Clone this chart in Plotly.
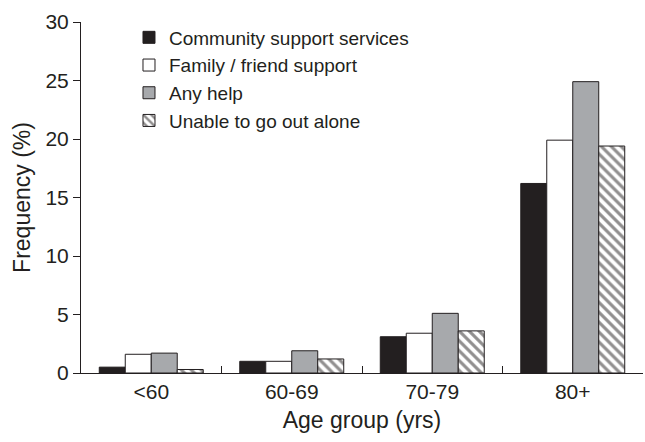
import plotly.graph_objects as go

categories = ["<60", "60-69", "70-79", "80+"]
community = [0.5, 1.0, 3.1, 16.2]
family = [1.6, 1.0, 3.4, 19.9]
any_help = [1.7, 1.9, 5.1, 24.9]
unable = [0.3, 1.2, 3.6, 19.4]
y_ticks = [0, 5, 10, 15, 20, 25, 30]

fig = go.Figure()
line = dict(color="#231f20", width=1)
fig.add_bar(x=categories, y=community, name="Community support services",
            marker=dict(color="#231f20", line=line))
fig.add_bar(x=categories, y=family, name="Family / friend support",
            marker=dict(color="white", line=line))
fig.add_bar(x=categories, y=any_help, name="Any help",
            marker=dict(color="#a7a9ac", line=line))
fig.add_bar(x=categories, y=unable, name="Unable to go out alone",
            marker=dict(color="white", line=line,
                        pattern=dict(shape="\\", fgcolor="#231f20", bgcolor="white",
                                     size=7, solidity=0.45)))

font = dict(family="Liberation Sans, Arial, sans-serif", color="#231f20")
fig.update_layout(
    width=645, height=442,
    margin=dict(l=81, r=2, t=22, b=69),
    paper_bgcolor="white", plot_bgcolor="white",
    font=dict(size=21, **font),
    barmode="group", bargap=0.26, bargroupgap=0,
    showlegend=True,
    legend=dict(x=0.0854, y=1.01, xanchor="left", yanchor="top",
                font=dict(size=19, **font), bgcolor="rgba(0,0,0,0)",
                itemwidth=30),
)
fig.update_xaxes(
    title=dict(text="Age group (yrs)", font=dict(size=23, **font), standoff=9),
    showline=True, linecolor="#231f20", linewidth=1,
    ticks="inside", tickson="boundaries", ticklen=7, tickcolor="#231f20",
    showgrid=False, tickfont=dict(size=21, **font),
)
fig.update_yaxes(
    title=dict(text="Frequency (%)", font=dict(size=23, **font), standoff=8),
    range=[0, 30], tickvals=y_ticks,
    showline=True, linecolor="#231f20", linewidth=1,
    ticks="outside", ticklen=7, tickcolor="#231f20",
    showgrid=False, zeroline=False, tickfont=dict(size=21, **font),
)
fig.write_html("out.html")
